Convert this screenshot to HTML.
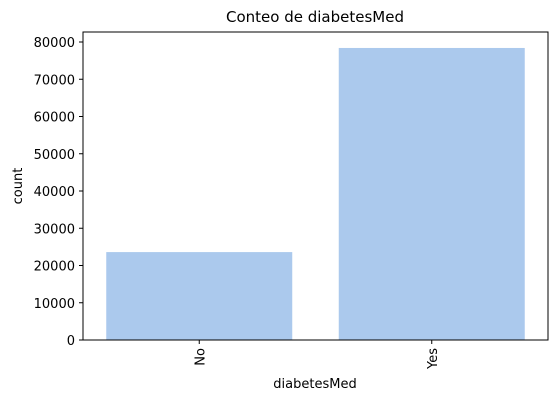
<!DOCTYPE html>
<html><head><meta charset="utf-8"><style>
body{margin:0;background:#fff;}
svg text{font-family:"DejaVu Sans","Liberation Sans",sans-serif;fill:#000;}
</style></head><body>
<svg id="chart" width="558" height="401">
<rect width="558" height="401" fill="#fff"/>
<text x="315" y="22" font-size="15" text-anchor="middle">Conteo de diabetesMed</text>
<g id="bars"></g><g id="yticks"></g><g id="xticks"></g>
<rect x="83" y="32" width="465" height="308" fill="none" stroke="#000" stroke-width="1"/>
<text x="22" y="186" font-size="13" text-anchor="middle" transform="rotate(-90 22 186)">count</text>
<text x="315" y="388" font-size="13" text-anchor="middle">diabetesMed</text>
</svg>
<script>
const categories=["No","Yes"];
const counts=[23600,78400];
const yTicks=[0,10000,20000,30000,40000,50000,60000,70000,80000];
const ns="http://www.w3.org/2000/svg";
const x0=83,x1=548,yBase=340,pxPer=37.25/10000;
function y(v){return yBase-v*pxPer;}
const band=(x1-x0)/categories.length;
function xc(i){return x0+band*(i+0.5);}
const bw=band*0.8;
const gb=document.getElementById('bars'),gy=document.getElementById('yticks'),gx=document.getElementById('xticks');
categories.forEach((c,i)=>{
 const r=document.createElementNS(ns,'rect');
 r.setAttribute('x',xc(i)-bw/2);r.setAttribute('y',y(counts[i]));
 r.setAttribute('width',bw);r.setAttribute('height',yBase-y(counts[i]));
 r.setAttribute('fill','#abc9ed');
 
 
 gb.appendChild(r);
 const t=document.createElementNS(ns,'line');
 t.setAttribute('x1',xc(i));t.setAttribute('x2',xc(i));t.setAttribute('y1',340);t.setAttribute('y2',344);t.setAttribute('stroke','#000');
 
 
 gx.appendChild(t);
 const l=document.createElementNS(ns,'text');
 l.setAttribute('font-size','13');l.setAttribute('text-anchor','end');
 l.setAttribute('transform',`translate(${xc(i)+5},348) rotate(-90)`);
 l.textContent=c;
 
 
 gx.appendChild(l);
});
yTicks.forEach(v=>{
 const t=document.createElementNS(ns,'line');
 t.setAttribute('x1',79);t.setAttribute('x2',83);t.setAttribute('y1',y(v));t.setAttribute('y2',y(v));t.setAttribute('stroke','#000');
 
 
 gy.appendChild(t);
 const l=document.createElementNS(ns,'text');
 l.setAttribute('x',75);l.setAttribute('y',y(v)+5);l.setAttribute('font-size','13');l.setAttribute('text-anchor','end');
 l.textContent=v;
 
 
 gy.appendChild(l);
});
</script>
</body></html>
